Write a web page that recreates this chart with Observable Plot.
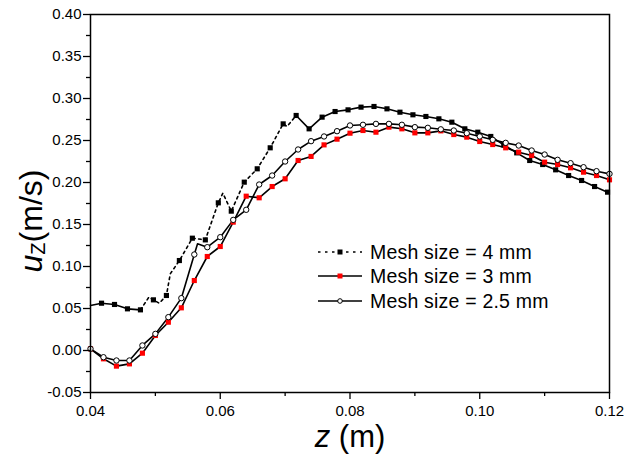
<!DOCTYPE html>
<html>
<head>
<meta charset="utf-8">
<script src="https://cdn.jsdelivr.net/npm/d3@7"></script>
<script src="https://cdn.jsdelivr.net/npm/@observablehq/plot@0.6"></script>
<style>
  body { margin: 0; background: #fff; }
  #wrap { position: relative; width: 624px; height: 457px; }
</style>
</head>
<body>
<div id="wrap"></div>
<script>
// ---------- data ----------
const seriesNames = ["Mesh size = 4 mm", "Mesh size = 3 mm", "Mesh size = 2.5 mm"];

// Mesh 4 mm: marker points
const zMesh4 = [0.0417,0.0437,0.0457,0.0477,0.0497,0.0517,0.0537,0.0557,0.0577,0.0597,
  0.0617,0.0637,0.0657,0.0677,0.0697,0.0717,0.0737,0.0757,0.0777,0.0797,
  0.0817,0.0837,0.0857,0.0877,0.0897,0.0917,0.0937,0.0957,0.0977,0.0997,
  0.1017,0.1037,0.1057,0.1077,0.1097,0.1117,0.1137,0.1157,0.1177,0.1197];
const uMesh4 = [0.0563,0.0548,0.0496,0.0484,0.0603,0.0655,0.1071,0.1337,0.1317,0.1758,
  0.1659,0.2004,0.2163,0.2413,0.2698,0.2798,0.2639,0.2778,0.2845,0.2865,
  0.2897,0.2905,0.2877,0.2837,0.2806,0.2786,0.2758,0.2718,0.2639,0.2599,
  0.2548,0.2448,0.2353,0.2262,0.2214,0.2151,0.2083,0.2024,0.1952,0.1885];
// Mesh 4 mm: line-only points between markers
const zMesh4Extra = [0.0400,0.0490,0.0506,0.0523,0.0604,0.0703];
const uMesh4Extra = [0.0536,0.0635,0.0563,0.0913,0.1873,0.2667];

// Mesh 3 mm and 2.5 mm: marker points
const zFine = [0.040,0.042,0.044,0.046,0.048,0.050,0.052,0.054,0.056,0.058,
  0.060,0.062,0.064,0.066,0.068,0.070,0.072,0.074,0.076,0.078,
  0.080,0.082,0.084,0.086,0.088,0.090,0.092,0.094,0.096,0.098,
  0.100,0.102,0.104,0.106,0.108,0.110,0.112,0.114,0.116,0.118,0.120];
const uMesh3 = [0.0020,-0.0099,-0.0186,-0.0159,-0.0032,0.0179,0.0337,0.0508,0.0833,0.1119,
  0.1238,0.1528,0.1837,0.1818,0.1952,0.2044,0.2262,0.2310,0.2448,0.2516,
  0.2587,0.2619,0.2599,0.2659,0.2639,0.2591,0.2591,0.2615,0.2571,0.2540,
  0.2488,0.2452,0.2413,0.2361,0.2321,0.2242,0.2214,0.2175,0.2123,0.2083,0.2032];
const uMesh25 = [0.0020,-0.0080,-0.0119,-0.0119,0.0060,0.0198,0.0397,0.0623,0.1143,0.1230,
  0.1349,0.1555,0.1675,0.1976,0.2083,0.2250,0.2393,0.2492,0.2548,0.2611,
  0.2679,0.2687,0.2698,0.2698,0.2687,0.2659,0.2651,0.2633,0.2619,0.2587,
  0.2548,0.2508,0.2472,0.2440,0.2381,0.2333,0.2270,0.2230,0.2182,0.2135,0.2103];
// Mesh 2.5 mm: line-only point
const zMesh25Extra = [0.0565];
const uMesh25Extra = [0.1270];

// axis ticks
const xTicks = [0.04,0.06,0.08,0.10,0.12];
const xMinor = [0.05,0.07,0.09,0.11];
const yTicks = [-0.05,0.00,0.05,0.10,0.15,0.20,0.25,0.30,0.35,0.40];
const yMinor = [-0.025,0.025,0.075,0.125,0.175,0.225,0.275,0.325,0.375];

// ---------- build tables ----------
const toRows = (zs, us) => zs.map((z, i) => ({z, u: us[i]}));
const m4 = toRows(zMesh4, uMesh4);
const line4 = m4.concat(toRows(zMesh4Extra, uMesh4Extra)).sort((a, b) => a.z - b.z);
const m3 = toRows(zFine, uMesh3);
const m25 = toRows(zFine, uMesh25);
const line25 = m25.concat(toRows(zMesh25Extra, uMesh25Extra)).sort((a, b) => a.z - b.z);

const dashFrom = 0.0477, dashTo = 0.0717, eps = 1e-9;
const lw = 1.6;
const fmt = d => d.toFixed(2);

const chart = Plot.plot({
  width: 624,
  height: 457,
  marginLeft: 90,
  marginRight: 15,
  marginTop: 14,
  marginBottom: 65,
  style: {fontFamily: "'Liberation Sans', Arial, sans-serif", fontSize: "15px", color: "#000", background: "#fff"},
  x: {domain: [0.04, 0.12]},
  y: {domain: [-0.05, 0.40]},
  marks: [
    Plot.line(line25, {x: "z", y: "u", stroke: "#000", strokeWidth: lw}),
    Plot.line(m3, {x: "z", y: "u", stroke: "#000", strokeWidth: lw}),
    Plot.line(line4.filter(d => d.z <= dashFrom + eps), {x: "z", y: "u", stroke: "#000", strokeWidth: lw}),
    Plot.line(line4.filter(d => d.z >= dashFrom - eps && d.z <= dashTo + eps), {x: "z", y: "u", stroke: "#000", strokeWidth: lw, strokeDasharray: "2.5,3.5"}),
    Plot.line(line4.filter(d => d.z >= dashTo - eps), {x: "z", y: "u", stroke: "#000", strokeWidth: lw}),
    Plot.dot(m4, {x: "z", y: "u", symbol: "square", fill: "#000", r: 2.9}),
    Plot.dot(m3, {x: "z", y: "u", symbol: "square", fill: "#ff0000", r: 2.9}),
    Plot.dot(m25, {x: "z", y: "u", symbol: "circle", fill: "#fff", stroke: "#000", strokeWidth: 1, r: 2.7}),
    Plot.axisX({ticks: xTicks, tickSize: 7, tickPadding: 6, tickFormat: fmt, label: null, fontSize: 15, strokeWidth: 1.3}),
    Plot.axisX({ticks: xMinor, tickSize: 4, tickFormat: () => "", label: null, strokeWidth: 1.3}),
    Plot.axisY({ticks: yTicks, tickSize: 7, tickPadding: 2, tickFormat: fmt, label: null, fontSize: 15, strokeWidth: 1.3}),
    Plot.axisY({ticks: yMinor, tickSize: 4, tickFormat: () => "", label: null, strokeWidth: 1.3}),
    Plot.frame({stroke: "#000", strokeWidth: 1.5})
  ]
});

document.getElementById("wrap").appendChild(chart);

// ---------- axis titles and legend ----------
const svg = d3.select(chart);
const ff = "'Liberation Sans', Arial, sans-serif";

const xl = svg.append("text")
  .attr("x", 350).attr("y", 447)
  .attr("text-anchor", "middle")
  .attr("font-family", ff).attr("font-size", 31).attr("fill", "#000");
xl.append("tspan").attr("font-style", "italic").text("z");
xl.append("tspan").text(" (m)");

const yl = svg.append("text")
  .attr("transform", "translate(42,221) rotate(-90)")
  .attr("text-anchor", "middle")
  .attr("font-family", ff).attr("font-size", 32).attr("fill", "#000");
yl.append("tspan").attr("font-style", "italic").text("u");
yl.append("tspan").attr("font-size", 20).attr("dy", 3).text("Z");
yl.append("tspan").attr("dy", -3).text("(m/s)");

const lg = svg.append("g").attr("text-anchor", "start");
const rowsY = [252, 276, 301];
const styles = [
  {dash: "2.5,4.5", sym: "sq", fill: "#000"},
  {dash: null, sym: "sq", fill: "#ff0000"},
  {dash: null, sym: "ci", fill: "#fff"}
];
seriesNames.forEach((name, i) => {
  const y = rowsY[i], s = styles[i];
  const ln = lg.append("line").attr("x1", 318).attr("x2", 362).attr("y1", y).attr("y2", y)
    .attr("stroke", "#000").attr("stroke-width", lw);
  if (s.dash) ln.attr("stroke-dasharray", s.dash);
  if (s.sym === "sq") {
    lg.append("rect").attr("x", 337.5).attr("y", y - 2.5).attr("width", 5).attr("height", 5).attr("fill", s.fill);
  } else {
    lg.append("circle").attr("cx", 340).attr("cy", y).attr("r", 2.3).attr("fill", "#fff").attr("stroke", "#000");
  }
  lg.append("text").attr("x", 370).attr("y", y + 6.8).attr("text-anchor", "start")
    .attr("font-family", ff).attr("font-size", 19.5).attr("letter-spacing", 0.2)
    .attr("fill", "#000").text(name);
});
</script>
</body>
</html>
